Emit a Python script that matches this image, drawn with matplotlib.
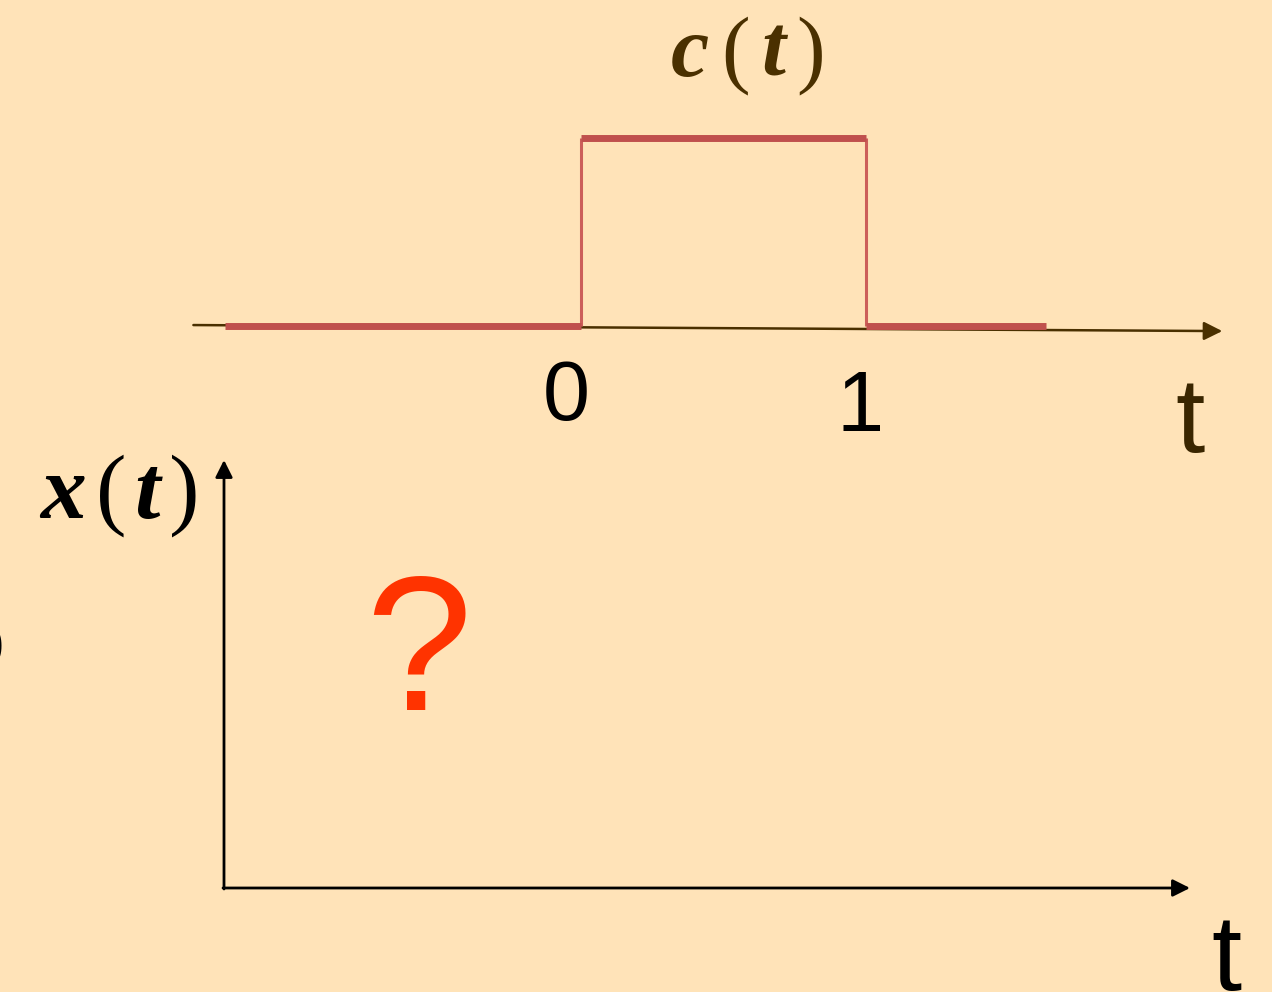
import numpy as np
import matplotlib.pyplot as plt

# c(t): unit pulse between t=0 and t=1
t_edges = [-1.25, 0.0, 1.0, 1.63]
c_levels = [0, 1, 0]
jump_t = [0.0, 1.0]
tick_vals = [0, 1]
tick_labels = ['0', '1']

W, H = 1272, 992
bg = '#FFE3B8'
red = '#C0504D'
brown = '#4A3000'

fig = plt.figure(figsize=(W / 100, H / 100), dpi=100, facecolor=bg)

# data axes spanning the whole figure: t=0 at x=581px, t=1 at x=866px; c=0 at y=326px, c=1 at y=138px
ax = fig.add_axes([0, 0, 1, 1])
ax.set_facecolor(bg)
ax.axis('off')
sx, x0 = 285.0, 581.0
sy, y0 = 188.0, 326.0
ax.set_xlim(-x0 / sx, (W - x0) / sx)
ax.set_ylim((y0 - H) / sy, y0 / sy)


def px(x, y):
    # pixel (from top-left) to figure fraction
    return x / W, 1 - y / H


def math_label(x_c, y_base, letter, size, color, gaps):
    # italic bold letters, upright parentheses, like the slide's equation objects
    parts = [(letter, True), ('(', False), ('t', True), (')', False)]
    for (s, it), dx in zip(parts, gaps):
        fig.text(*px(x_c + dx, y_base), s, fontsize=size,
                 family='Liberation Serif', style='italic' if it else 'normal',
                 weight='bold' if it else 'medium', ha='center', va='baseline', color=color)


# time axis of the top plot
ax.annotate('', xy=(2.25, -0.027), xytext=(-1.36, 0.005),
            arrowprops=dict(arrowstyle='-|>', color=brown, lw=1.8,
                            mutation_scale=28, shrinkA=0, shrinkB=0))

# pulse
ax.vlines(jump_t, 0, 1, color='#CC5F5A', lw=2.2, zorder=3)
ax.hlines(c_levels, t_edges[:-1], t_edges[1:], color=red, lw=5, zorder=4)

# tick labels
ax.text(tick_vals[0] - 0.05, -0.385, tick_labels[0], fontsize=61, family='Liberation Sans',
        ha='center', va='center', color='black')
ax.text(tick_vals[1] - 0.02, -0.44, tick_labels[1], fontsize=61, family='Liberation Sans',
        ha='center', va='center', color='black')

fig.text(*px(1190, 424), 't', fontsize=76, family='Liberation Sans', ha='center',
         va='center', color='#3A2600')
math_label(690, 76, 'c', 62, brown, [0, 46, 83, 121])

# lower (empty) axes for x(t)
ax2 = fig.add_axes([0, 0, 1, 1], facecolor='none')
ax2.axis('off')
ax2.set_xlim(0, W)
ax2.set_ylim(H, 0)
ax2.annotate('', xy=(224, 460), xytext=(224, 889),
             arrowprops=dict(arrowstyle='-|>', color='black', lw=2,
                             mutation_scale=26, shrinkA=0, shrinkB=0))
ax2.annotate('', xy=(1190, 888), xytext=(223, 888),
             arrowprops=dict(arrowstyle='-|>', color='black', lw=2,
                             mutation_scale=26, shrinkA=0, shrinkB=0))

math_label(63, 518, 'x', 66, 'black', [0, 48, 84, 121])
fig.text(*px(418, 710), '?', fontsize=138, family='Liberation Sans', ha='center',
         va='baseline', color='#FF3300')
fig.text(*px(1226, 962), 't', fontsize=78, family='Liberation Sans', ha='center',
         va='center', color='black')
fig.text(*px(-5, 646), ')', fontsize=36, family='Liberation Serif', ha='center',
         va='center', color='black')

fig.savefig('out.png', dpi=100, facecolor=bg)
